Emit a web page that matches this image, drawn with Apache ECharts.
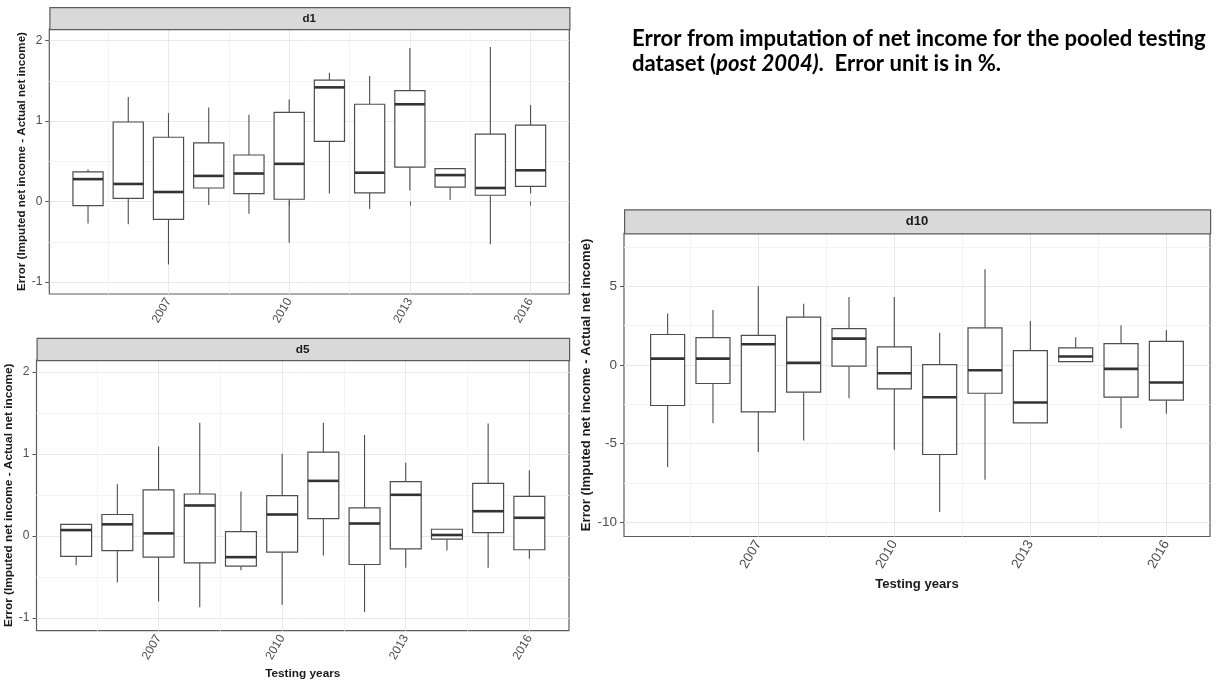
<!DOCTYPE html>
<html><head><meta charset="utf-8">
<script src="https://cdn.jsdelivr.net/npm/echarts@6/dist/echarts.min.js"></script>
<style>html,body{margin:0;padding:0;background:#fff}#c{width:1217px;height:687px}</style>
</head><body><div id="c"></div>
<script>
// ---------------- data ----------------
const years = [2005, 2006, 2007, 2008, 2009, 2010, 2011, 2012, 2013, 2014, 2015, 2016];
const xTickValues = [2007, 2010, 2013, 2016];
const panelNames = ['d1', 'd5', 'd10'];
const d1Ticks = [-1, 0, 1, 2];
const d5Ticks = [-1, 0, 1, 2];
const d10Ticks = [-10, -5, 0, 5];
const yTitle = 'Error (Imputed net income - Actual net income)';
const xTitle = 'Testing years';

const d1Low    = [-0.27, -0.28, -0.78, -0.04, -0.15, -0.51, 0.10, -0.09, 0.14, 0.02, -0.53, 0.10];
const d1Q1     = [-0.05, 0.04, -0.22, 0.17, 0.10, 0.03, 0.75, 0.11, 0.43, 0.18, 0.08, 0.19];
const d1Median = [0.28, 0.22, 0.12, 0.32, 0.35, 0.47, 1.42, 0.36, 1.21, 0.33, 0.17, 0.39];
const d1Q3     = [0.37, 0.99, 0.80, 0.73, 0.58, 1.11, 1.51, 1.21, 1.38, 0.41, 0.84, 0.95];
const d1High   = [0.40, 1.30, 1.10, 1.17, 1.08, 1.27, 1.60, 1.56, 1.91, 0.41, 1.92, 1.20];

const d5Low    = [-0.36, -0.57, -0.80, -0.87, -0.42, -0.84, -0.24, -0.93, -0.39, -0.18, -0.39, -0.28];
const d5Q1     = [-0.25, -0.18, -0.26, -0.33, -0.37, -0.20, 0.21, -0.35, -0.16, -0.04, 0.04, -0.17];
const d5Median = [0.07, 0.14, 0.03, 0.37, -0.26, 0.26, 0.67, 0.15, 0.50, 0.01, 0.30, 0.22];
const d5Q3     = [0.14, 0.26, 0.56, 0.51, 0.05, 0.49, 1.02, 0.34, 0.66, 0.08, 0.64, 0.48];
const d5High   = [0.14, 0.63, 1.09, 1.38, 0.54, 1.00, 1.38, 1.23, 0.89, 0.08, 1.37, 0.80];

const d10Low    = [-6.49, -3.70, -5.54, -4.80, -2.12, -5.39, -9.35, -7.30, -3.68, 0.21, -4.02, -3.11];
const d10Q1     = [-2.58, -1.18, -2.98, -1.73, -0.08, -1.52, -5.69, -1.80, -3.68, 0.21, -2.05, -2.24];
const d10Median = [0.40, 0.40, 1.31, 0.13, 1.67, -0.53, -2.05, -0.34, -2.39, 0.53, -0.25, -1.12];
const d10Q3     = [1.93, 1.73, 1.88, 3.03, 2.31, 1.14, 0.02, 2.35, 0.91, 1.08, 1.35, 1.50];
const d10High   = [3.26, 3.49, 4.99, 3.89, 4.32, 4.32, 2.05, 6.07, 2.79, 1.76, 2.52, 2.22];

const titleLine1 = 'Error from imputation of net income for the pooled testing';
const titleLine2a = 'dataset (';
const titleLine2b = 'post 2004)';
const titleLine2c = '.  Error unit is in %.';

// ---------------- layout / style ----------------
const X_RANGE = [2004.0375, 2016.9625];
const BOX_W = 0.75;
const FONT = '"Liberation Sans", Arial, sans-serif';
const panels = [
  { name: panelNames[0], ticks: d1Ticks, low: d1Low, q1: d1Q1, med: d1Median, q3: d1Q3, high: d1High,
    yMin: -1.147, yMax: 2.145, step: 1, left: 49.3, right: 569.3, top: 29, bottom: 294, stripTop: 7,
    fs: 12, titleFs: 11.6, nameGapY: 20, nameGapX: 37, showXTitle: false },
  { name: panelNames[1], ticks: d5Ticks, low: d5Low, q1: d5Q1, med: d5Median, q3: d5Q3, high: d5High,
    yMin: -1.157, yMax: 2.144, step: 1, left: 36.5, right: 569, top: 360, bottom: 630.7, stripTop: 337.7,
    fs: 12, titleFs: 11.8, nameGapY: 17, nameGapX: 37, showXTitle: true },
  { name: panelNames[2], ticks: d10Ticks, low: d10Low, q1: d10Q1, med: d10Median, q3: d10Q3, high: d10High,
    yMin: -10.9, yMax: 8.36, step: 5, left: 624, right: 1210, top: 233.3, bottom: 536.5, stripTop: 209.3,
    fs: 13.5, titleFs: 13.1, nameGapY: 31, nameGapX: 41, showXTitle: true }
];

const chart = echarts.init(document.getElementById('c'), null, { renderer: 'canvas' });

const grids = [], xAxes = [], yAxes = [], series = [], graphics = [];

panels.forEach((p, i) => {
  grids.push({ left: p.left, top: p.top, width: p.right - p.left, height: p.bottom - p.top,
    show: true, borderColor: '#5c5c5c', borderWidth: 1.2, backgroundColor: '#fff', containLabel: false });
  xAxes.push({
    type: 'value', gridIndex: i, min: X_RANGE[0], max: X_RANGE[1], minInterval: 3, maxInterval: 3,
    name: p.showXTitle ? xTitle : '', nameLocation: 'middle', nameGap: p.nameGapX,
    nameTextStyle: { fontFamily: FONT, fontWeight: 'bold', fontSize: p.titleFs, color: '#1a1a1a' },
    axisLine: { show: false },
    axisTick: { show: true, length: 4, lineStyle: { color: '#555' }, customValues: xTickValues },
    axisLabel: { show: true, rotate: 60, margin: 5, fontSize: p.fs, color: '#4d4d4d', fontFamily: FONT,
      customValues: xTickValues, formatter: v => String(Math.round(v)) },
    splitLine: { show: true, lineStyle: { color: '#e9e9e9', width: 1 } },
    minorSplitLine: { show: true, lineStyle: { color: '#f4f4f4', width: 1 } },
    minorTick: { show: false, splitNumber: 2 }
  });
  yAxes.push({
    type: 'value', gridIndex: i, min: p.yMin, max: p.yMax, minInterval: p.step, maxInterval: p.step,
    name: yTitle, nameLocation: 'middle', nameGap: p.nameGapY,
    nameTextStyle: { fontFamily: FONT, fontWeight: 'bold', fontSize: p.titleFs, color: '#1a1a1a' },
    axisLine: { show: false },
    axisTick: { show: true, length: 4, lineStyle: { color: '#555' }, customValues: p.ticks },
    axisLabel: { show: true, margin: 7, fontSize: p.fs, color: '#4d4d4d', fontFamily: FONT,
      customValues: p.ticks },
    splitLine: { show: true, lineStyle: { color: '#e9e9e9', width: 1 } },
    minorSplitLine: { show: true, lineStyle: { color: '#f4f4f4', width: 1 } },
    minorTick: { show: false, splitNumber: 2 }
  });
  const data = years.map((y, k) => [y, p.low[k], p.q1[k], p.med[k], p.q3[k], p.high[k]]);
  series.push({
    type: 'custom', xAxisIndex: i, yAxisIndex: i, data: data, silent: true,
    encode: { x: 0, y: [1, 2, 3, 4, 5] },
    renderItem: function (params, api) {
      const x = api.value(0);
      const lo = api.coord([x, api.value(1)]);
      const a = api.coord([x, api.value(2)]);
      const m = api.coord([x, api.value(3)]);
      const b = api.coord([x, api.value(4)]);
      const hi = api.coord([x, api.value(5)]);
      const w = api.size([BOX_W, 0])[0];
      const stroke = '#4d4d4d';
      return { type: 'group', children: [
        { type: 'line', shape: { x1: lo[0], y1: lo[1], x2: a[0], y2: a[1] }, style: { stroke: stroke, lineWidth: 1.1 } },
        { type: 'line', shape: { x1: b[0], y1: b[1], x2: hi[0], y2: hi[1] }, style: { stroke: stroke, lineWidth: 1.1 } },
        { type: 'rect', shape: { x: b[0] - w / 2, y: b[1], width: w, height: a[1] - b[1] },
          style: { fill: '#fff', stroke: stroke, lineWidth: 1.2 } },
        { type: 'line', shape: { x1: m[0] - w / 2, y1: m[1], x2: m[0] + w / 2, y2: m[1] },
          style: { stroke: '#333', lineWidth: 2.6 } }
      ]};
    }
  });
  // facet strip
  graphics.push({ type: 'rect', left: p.left, top: p.stripTop,
    shape: { width: p.right - p.left, height: p.top - p.stripTop },
    style: { fill: '#d9d9d9', stroke: '#5c5c5c', lineWidth: 1.2 }, z: 10 });
  graphics.push({ type: 'text', x: (p.left + p.right) / 2, y: (p.stripTop + p.top) / 2 + 0.5,
    style: { text: p.name, fill: '#1a1a1a', font: 'bold ' + p.titleFs + 'px ' + FONT,
      textAlign: 'center', textVerticalAlign: 'middle' }, z: 11 });
});

// headline text, sized to the reference width
const TITLE_FONT = 'Lato, "Noto Sans", sans-serif';
const ctx = document.createElement('canvas').getContext('2d');
ctx.font = 'bold 20px ' + TITLE_FONT;
const w20 = ctx.measureText(titleLine1).width;
const titleSize = Math.round(20 * 575 / w20 * 10) / 10;
graphics.push({ type: 'text', x: 632, y: 39,
  style: { text: titleLine1, fill: '#000', font: 'bold ' + titleSize + 'px ' + TITLE_FONT,
    textAlign: 'left', textVerticalAlign: 'middle' } });
graphics.push({ type: 'text', x: 632, y: 64,
  style: { text: '{a|' + titleLine2a + '}{b|' + titleLine2b + '}{a|' + titleLine2c + '}',
    textAlign: 'left', textVerticalAlign: 'middle',
    rich: {
      a: { fontFamily: TITLE_FONT, fontWeight: 'bold', fontSize: titleSize, fill: '#000', color: '#000' },
      b: { fontFamily: TITLE_FONT, fontWeight: 'bold', fontStyle: 'italic', fontSize: titleSize, fill: '#000', color: '#000' }
    } } });

chart.setOption({
  backgroundColor: '#ffffff',
  animation: false,
  grid: grids, xAxis: xAxes, yAxis: yAxes, series: series, graphic: graphics
});
</script></body></html>
